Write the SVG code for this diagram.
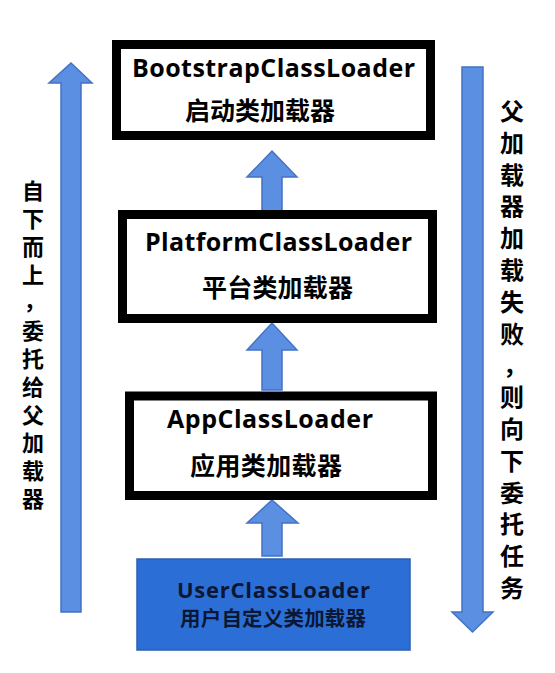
<svg xmlns="http://www.w3.org/2000/svg" width="555" height="673" viewBox="0 0 555 673">
<style>
.box{fill:#ffffff;stroke:#000000;stroke-width:9}
.ubox{fill:#2b6fd6;stroke:#2a5fb0;stroke-width:1.5}
.arr{fill:#5b8fe2;stroke:#4472c4;stroke-width:1.5;stroke-linejoin:miter}
.en{font-family:"Open Sans","Liberation Sans",sans-serif;font-weight:bold;font-size:25px;fill:#000}
.zh{font-family:"Noto Sans CJK SC",sans-serif;font-weight:bold;font-size:25px;fill:#000}
.uen{font-family:"Open Sans","Liberation Sans",sans-serif;font-weight:bold;font-size:22px;fill:#0b1733}
.uzh{font-family:"Noto Sans CJK SC",sans-serif;font-weight:bold;font-size:20.5px;fill:#0b1733}
.vl{font-family:"Noto Sans CJK SC",sans-serif;font-weight:bold;font-size:22px;fill:#000;writing-mode:vertical-rl;text-orientation:upright;font-feature-settings:"vert" 0;letter-spacing:6px}
.vr{font-family:"Noto Sans CJK SC",sans-serif;font-weight:bold;font-size:24px;fill:#000;text-anchor:middle}
</style>
<rect width="555" height="673" fill="#ffffff"/>
<g id="connectors">
  <path class="arr" d="M61,612 V83 H49 L71,63 L92,83 H81 V612 Z"/>
  <path class="arr" d="M462,67 H483 V612 H493 L472.5,632 L452,612 H462 Z"/>
  <path class="arr" d="M262,212 V177 H247 L272,151 L297,177 H282 V212 Z"/>
  <path class="arr" d="M262,390 V350 H247 L272,323 L297,350 H282 V390 Z"/>
  <path class="arr" d="M262,556 V523 H247 L272,500 L298,523 H282 V556 Z"/>
</g>
<g id="bootstrap">
  <rect class="box" x="116.5" y="44.5" width="314" height="91"/>
  <text class="en" x="132" y="77" textLength="283">BootstrapClassLoader</text>
  <text class="zh" x="185" y="120" textLength="150">启动类加载器</text>
</g>
<g id="platform">
  <rect class="box" x="122.5" y="214.5" width="310" height="104"/>
  <text class="en" x="145" y="251" textLength="267">PlatformClassLoader</text>
  <text class="zh" x="202" y="297" textLength="151">平台类加载器</text>
</g>
<g id="app">
  <rect class="box" x="129.5" y="396" width="303" height="99.5"/>
  <text class="en" x="167" y="428" textLength="206">AppClassLoader</text>
  <text class="zh" x="190" y="475" textLength="152">应用类加载器</text>
</g>
<g id="user">
  <rect class="ubox" x="137" y="559" width="273" height="91"/>
  <text class="uen" x="177" y="598" textLength="193">UserClassLoader</text>
  <text class="uzh" x="180" y="626" textLength="186">用户自定义类加载器</text>
</g>
<g id="label-left">
  <text class="vl" x="33" y="180">自下而上<tspan dx="-9" dy="12">，</tspan><tspan dx="9" dy="-12">委托给父加载器</tspan></text>
</g>
<g id="label-right">
  <text class="vr"><tspan x="512" y="120">父</tspan><tspan x="512" y="151.8">加</tspan><tspan x="512" y="183.6">载</tspan><tspan x="512" y="215.4">器</tspan><tspan x="512" y="247.2">加</tspan><tspan x="512" y="279">载</tspan><tspan x="512" y="310.8">失</tspan><tspan x="512" y="342.6">败</tspan><tspan x="515" y="374.4">，</tspan><tspan x="512" y="406.2">则</tspan><tspan x="512" y="438">向</tspan><tspan x="512" y="469.8">下</tspan><tspan x="512" y="501.6">委</tspan><tspan x="512" y="533.4">托</tspan><tspan x="512" y="565.2">任</tspan><tspan x="512" y="597">务</tspan></text>
</g>
</svg>
